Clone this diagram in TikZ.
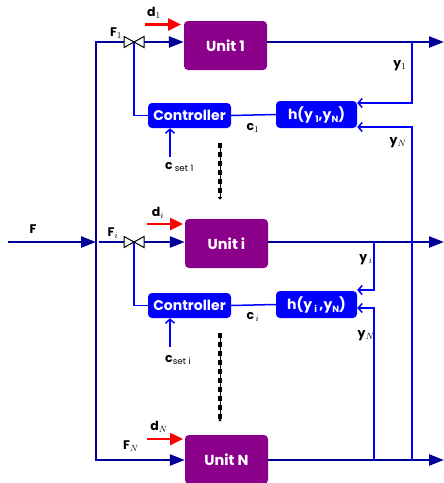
\documentclass[tikz,border=0pt]{standalone}
\usepackage{fontspec}
\setmainfont{Poppins}
\usetikzlibrary{arrows.meta,calc}
\definecolor{navy}{RGB}{0,0,153}
\definecolor{ublue}{RGB}{0,0,255}
\definecolor{upurple}{RGB}{139,0,139}
\newcommand{\sbs}[1]{\raisebox{-0.45ex}{\fontsize{9}{10}\selectfont #1}}
\tikzset{
  unitbox/.style={fill=upurple, rounded corners=4pt, minimum width=83pt, minimum height=49pt, text=white, font=\bfseries\fontsize{14.5}{16}\selectfont, inner sep=0pt},
  ctrlbox/.style={fill=ublue, rounded corners=4pt, minimum width=83pt, minimum height=25pt, text=white, font=\bfseries\fontsize{14}{16}\selectfont, inner sep=0pt},
  hfbox/.style={fill=ublue, rounded corners=4pt, minimum width=81pt, minimum height=27pt, text=white, font=\bfseries\fontsize{14}{16}\selectfont, inner sep=0pt},
  flow/.style={navy, line width=2.5pt},
  bighead/.style={flow, -{Triangle[length=15pt,width=11pt]}},
  sig/.style={ublue, line width=1.5pt},
  sigarrow/.style={sig, -{Straight Barb[length=4pt,width=9pt]}},
  dist/.style={red, line width=2.5pt, -{Triangle[length=13pt,width=12pt]}},
  lbl/.style={font=\bfseries\fontsize{12.5}{14}\selectfont, inner sep=0pt},
  valvepart/.style={black, fill=white, line width=1pt, line join=miter},
  sepline/.style={black, line width=0.8pt},
  sepdash/.style={black, line width=3.5pt, dash pattern=on 5pt off 4pt},
}
\begin{document}
\begin{tikzpicture}[x=1pt,y=-1pt]
\useasboundingbox (0,0) rectangle (444,483);
% units
\node[unitbox] (u1) at (225.5,45.5) {Unit 1};
\node[unitbox] (ui) at (226.5,243.5) {Unit i};
\node[unitbox] (uN) at (226.5,459.5) {Unit N};
% controllers
\node[ctrlbox] (c1) at (189.5,115.5) {Controller};
\node[ctrlbox] (ci) at (189.5,305.5) {Controller};
\node[hfbox] (h1) at (316.5,114.5) {h(y\,\sbs{1},y\sbs{N})};
\node[hfbox] (hi) at (316.5,304.5) {h(y\,\sbs{i}\,,y\sbs{N})};
% coordinates
\coordinate (b1) at (96,42);
\coordinate (bi) at (96,242);
\coordinate (bN) at (96,460);
\coordinate (fin) at (8,242);
\coordinate (v1) at (134,42);
\coordinate (vi) at (134,242);
\coordinate (o1) at (444,42);
\coordinate (oi) at (444,242);
\coordinate (oN) at (444,460);
\coordinate (t1) at (412,42);
\coordinate (ti) at (374,242);
\coordinate (tN1) at (412,460);
\coordinate (tNi) at (374,460);
\coordinate (s1) at (170,157);
\coordinate (si) at (170,347);
\coordinate (d1a) at (145,24.5);
\coordinate (d1b) at (181,24.5);
\coordinate (dia) at (147,224);
\coordinate (dib) at (183,224);
\coordinate (dNa) at (147,439);
\coordinate (dNb) at (183,439);
\coordinate (k1a) at (220,143);
\coordinate (k1b) at (220,198);
\coordinate (k2a) at (220,333);
\coordinate (k2b) at (220,420);
% feed bus
\draw[flow, line join=miter, {Triangle[length=15pt,width=11pt]}-{Triangle[length=15pt,width=11pt]}]
  (u1.west |- b1) -- (b1) -- (bN) -- (uN.west |- bN);
\draw[bighead] (fin) -- (bi);
\draw[bighead] ([xshift=3pt]bi) -- (ui.west |- bi);
% outputs
\draw[bighead] (u1.east |- o1) -- (o1);
\draw[bighead] (ui.east |- oi) -- (oi);
\draw[bighead] (uN.east |- oN) -- (oN);
% control signals
\draw[sig] (v1) |- (c1.west);
\draw[sig] (vi) |- (ci.west);
\draw[sig] (h1.west) -- (c1.east);
\draw[sig] (hi.west) -- (ci.east);
\draw[sigarrow] (t1) |- ([yshift=11.5pt]h1.east);
\draw[sigarrow] (tN1) |- ([yshift=-12.5pt]h1.east);
\draw[sigarrow] (ti) |- ([yshift=14.5pt]hi.east);
\draw[sigarrow] (tNi) |- ([yshift=-3.5pt]hi.east);
\draw[sigarrow] (s1) -- (s1 |- c1.south);
\draw[sigarrow] (si) -- (si |- ci.south);
% valves
\foreach \v in {v1,vi}{
  \draw[valvepart] (\v) -- ++(-10,-5.5) -- ++(0,11) -- cycle;
  \draw[valvepart] (\v) -- ++(10,-5.5) -- ++(0,11) -- cycle;
}
% disturbances
\draw[dist] (d1a) -- (d1b);
\draw[dist] (dia) -- (dib);
\draw[dist] (dNa) -- (dNb);
% separators
\foreach \a/\b in {k1a/k1b,k2a/k2b}{
  \draw[sepline] (\a) -- (\b);
  \draw[sepdash] (\a) -- (\b);
  \fill[black] (\b) circle (1.5pt);
}
% labels
\node[lbl] (lF) at (33,229) {F};
\node[lbl] (lF1) at (116,33) {F$_1$};
\node[lbl] (lFi) at (113,233) {F$_i$};
\node[lbl] (lFN) at (131,446) {F$_N$};
\node[lbl] (ld1) at (154,13) {d$_1$};
\node[lbl] (ldi) at (158,213) {d$_i$};
\node[lbl] (ldN) at (159,427) {d$_N$};
\node[lbl] (ly1) at (400,66) {y$_1$};
\node[lbl] (lyN1) at (398,143) {y$_N$};
\node[lbl] (lyi) at (366,260) {y$_{\,i}$};
\node[lbl] (lyNi) at (366,336) {y$_N$};
\node[lbl] (lc1) at (253,128) {c$_1$};
\node[lbl] (lci) at (253,317) {c$_{\,i}$};
\node[lbl, anchor=west] (ls1) at (165,167) {c\,$_{\mathrm{set\ 1}}$};
\node[lbl, anchor=west] (lsi) at (165,360) {c$_{\mathrm{set\ i}}$};
\end{tikzpicture}
\end{document}
